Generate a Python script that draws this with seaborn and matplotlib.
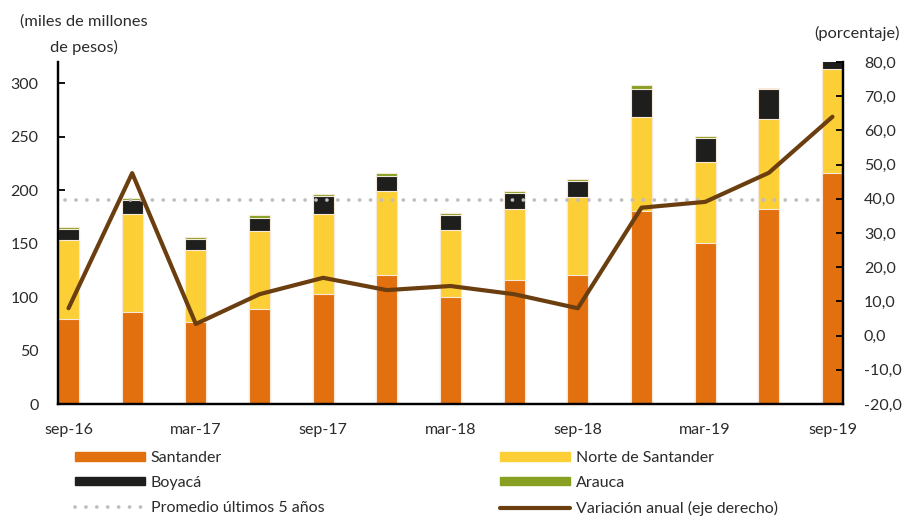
import numpy as np
import pandas as pd
import matplotlib
matplotlib.use("Agg")
import matplotlib.pyplot as plt
import matplotlib.patches as mpatches
import matplotlib.lines as mlines
import seaborn as sns

# ---------------- data ----------------
periods = ["sep-16", "dic-16", "mar-17", "jun-17", "sep-17", "dic-17", "mar-18",
           "jun-18", "sep-18", "dic-18", "mar-19", "jun-19", "sep-19"]
tick_labels = ["sep-16", "mar-17", "sep-17", "mar-18", "sep-18", "mar-19", "sep-19"]
santander = [80, 86, 77, 89, 102.5, 121, 100, 116, 121, 181, 151, 182.5, 216]
norte = [73, 92, 67, 73, 75, 78, 62.5, 66.5, 72.5, 88, 75, 84, 97]
boyaca = [11, 13, 10.5, 12.5, 17, 14.5, 14, 15, 15, 26, 22.5, 28, 9]
arauca = [2, 2, 2, 2.3, 2, 2.5, 2.4, 2, 2, 3.5, 2, 1.6, 2]
promedio = 190.6
variacion = [8.0, 47.5, 3.4, 12.1, 16.9, 13.3, 14.5, 12.1, 8.0, 37.4, 39.1, 47.6, 64.0]

# ---------------- styling ----------------
c_sant = "#E3700E"
c_norte = "#FDCF36"
c_boy = "#1E1E1C"
c_ara = "#87A022"
c_line = "#6B3E10"
c_avg = "#BEBEBE"
txt = "#2B2B2B"

sns.set_theme(style="white")
plt.rcParams["font.family"] = ["Lato", "DejaVu Sans"]
plt.rcParams["font.size"] = 11.5
plt.rcParams["text.color"] = txt
plt.rcParams["xtick.color"] = txt
plt.rcParams["ytick.color"] = txt

df = pd.DataFrame({"periodo": periods,
                   "santander": santander, "norte": norte,
                   "boyaca": boyaca, "arauca": arauca})
df["c1"] = df["santander"]
df["c2"] = df["c1"] + df["norte"]
df["c3"] = df["c2"] + df["boyaca"]
df["c4"] = df["c3"] + df["arauca"]

fig = plt.figure(figsize=(9.06, 5.17), dpi=100)
ax = fig.add_axes([58 / 906, 1 - 404 / 517, (843 - 58) / 906, (404 - 62) / 517])

bw = 0.33
for col, color in [("c4", c_ara), ("c3", c_boy), ("c2", c_norte), ("c1", c_sant)]:
    sns.barplot(data=df, x="periodo", y=col, order=periods, color=color,
                width=bw, saturation=1, edgecolor="#F6E9DA", linewidth=0.8,
                ax=ax, zorder=2)

x = np.arange(len(periods))
avg_style = (0, (0.01, 2.9))
sns.lineplot(x=[x[0] - 0.05, x[-1] - 0.1], y=[promedio, promedio], color=c_avg, lw=2.7,
             linestyle=avg_style, dash_capstyle="round", ax=ax, zorder=3)

ax.set_xlim(-bw / 2, len(periods) - 1 + bw / 2)
ax.set_ylim(0, 320)
ax.set_yticks([0, 50, 100, 150, 200, 250, 300])
ax.set_xlabel("")
ax.set_ylabel("")

# labels centered on bars, ticks at left edges of every second bar
ax.set_xticks(x[::2])
ax.set_xticklabels(tick_labels)
ax.tick_params(axis="x", which="major", length=0, pad=14, labelsize=11.5)
ax.set_xticks(x[::2] - bw / 2, minor=True)
ax.tick_params(axis="x", which="minor", direction="in", length=5, width=1.3, color="black")
ax.tick_params(axis="y", direction="in", length=5, width=1.3, color="black", pad=14, labelsize=11.5)

for s in ["left", "bottom", "right"]:
    ax.spines[s].set_color("black")
    ax.spines[s].set_linewidth(1.6)
ax.spines["top"].set_visible(False)

ax2 = ax.twinx()
sns.lineplot(x=x, y=variacion, color=c_line, lw=3, ax=ax2, zorder=4)
ax2.set_ylim(-20, 80)
ax2.set_yticks(np.arange(-20, 81, 10))
ax2.set_yticklabels([f"{v:.1f}".replace(".", ",") for v in np.arange(-20, 81, 10)])
ax2.tick_params(axis="y", direction="in", length=5, width=1.3, color="black", pad=15, labelsize=11.5)
for s in ["left", "bottom", "right"]:
    ax2.spines[s].set_color("black")
    ax2.spines[s].set_linewidth(1.6)
ax2.spines["top"].set_visible(False)
ax2.set_ylabel("")

fig.text(84 / 906, 1 - 22 / 517, "(miles de millones", ha="center", va="center", fontsize=11.8)
fig.text(84 / 906, 1 - 47 / 517, "de pesos)", ha="center", va="center", fontsize=11.8)
fig.text(900 / 906, 1 - 33 / 517, "(porcentaje)", ha="right", va="center", fontsize=11.8)

# legends
h_sant = mpatches.Patch(color=c_sant, label="Santander")
h_norte = mpatches.Patch(color=c_norte, label="Norte de Santander")
h_boy = mpatches.Patch(color=c_boy, label="Boyacá")
h_ara = mpatches.Patch(color=c_ara, label="Arauca")
h_avg = mlines.Line2D([], [], color=c_avg, lw=2.7, linestyle=avg_style,
                      dash_capstyle="round", label="Promedio últimos 5 años")
h_var = mlines.Line2D([], [], color=c_line, lw=3, label="Variación anual (eje derecho)")

common = dict(frameon=False, handlelength=4.4, handleheight=0.45, handletextpad=0.35,
              labelspacing=0.68, borderpad=0, borderaxespad=0, fontsize=11.5, loc="upper left")
fig.legend(handles=[h_sant, h_boy, h_avg], bbox_to_anchor=(75 / 906, 1 - 451 / 517), **common)
fig.legend(handles=[h_norte, h_ara, h_var], bbox_to_anchor=(500 / 906, 1 - 451 / 517), **common)

fig.savefig("out.png", dpi=100)
